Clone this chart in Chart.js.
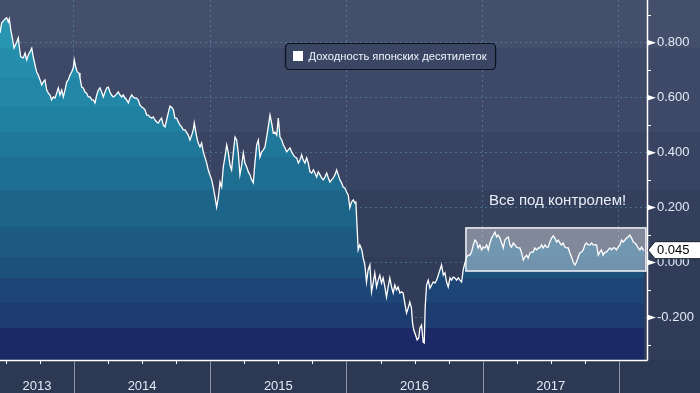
<!DOCTYPE html>
<html>
<head>
<meta charset="utf-8">
<script src="https://cdn.jsdelivr.net/npm/chart.js@4.4.0/dist/chart.umd.min.js"></script>
<style>
  html, body { margin: 0; padding: 0; background: #2d3852; }
  #wrap { width: 700px; height: 393px; }
</style>
</head>
<body>
<div id="wrap"><canvas id="jgb-chart" width="700" height="393"></canvas></div>
<script>
// Доходность 10-летних JGB, дата в долях года
const dates = [
  2013.457,2013.469,2013.494,2013.506,2013.518,2013.525,2013.536,2013.550,2013.560,2013.580,
  2013.591,2013.599,2013.609,2013.628,2013.641,2013.653,2013.665,2013.677,2013.690,2013.701,
  2013.714,2013.726,2013.738,2013.751,2013.763,2013.775,2013.787,2013.800,2013.812,2013.824,
  2013.836,2013.848,2013.861,2013.873,2013.885,2013.897,2013.910,2013.922,2013.934,2013.947,
  2013.958,2013.971,2013.983,2013.995,2014.002,2014.013,2014.024,2014.037,2014.044,2014.057,
  2014.068,2014.081,2014.093,2014.105,2014.118,2014.130,2014.142,2014.154,2014.167,2014.179,
  2014.191,2014.203,2014.215,2014.228,2014.240,2014.252,2014.264,2014.276,2014.288,2014.301,
  2014.313,2014.325,2014.338,2014.350,2014.362,2014.374,2014.387,2014.399,2014.411,2014.424,
  2014.435,2014.448,2014.460,2014.472,2014.484,2014.497,2014.509,2014.521,2014.534,2014.545,
  2014.558,2014.570,2014.582,2014.595,2014.607,2014.619,2014.631,2014.643,2014.655,2014.668,
  2014.680,2014.692,2014.705,2014.717,2014.729,2014.741,2014.754,2014.766,2014.778,2014.790,
  2014.802,2014.815,2014.839,2014.851,2014.864,2014.876,2014.883,2014.901,2014.912,2014.925,
  2014.937,2014.949,2014.961,2014.974,2014.986,2014.998,2015.011,2015.022,2015.035,2015.047,
  2015.059,2015.072,2015.084,2015.096,2015.108,2015.121,2015.133,2015.145,2015.157,2015.170,
  2015.182,2015.194,2015.206,2015.218,2015.231,2015.243,2015.255,2015.268,2015.280,2015.292,
  2015.304,2015.316,2015.328,2015.341,2015.353,2015.365,2015.378,2015.390,2015.402,2015.414,
  2015.426,2015.439,2015.451,2015.463,2015.475,2015.488,2015.500,2015.512,2015.525,2015.537,
  2015.549,2015.561,2015.573,2015.585,2015.598,2015.610,2015.622,2015.635,2015.647,2015.659,
  2015.671,2015.683,2015.695,2015.708,2015.720,2015.732,2015.745,2015.757,2015.769,2015.781,
  2015.793,2015.806,2015.818,2015.830,2015.842,2015.855,2015.867,2015.879,2015.891,2015.903,
  2015.915,2015.928,2015.940,2015.952,2015.964,2015.976,2015.989,2016.001,2016.013,2016.025,
  2016.037,2016.050,2016.062,2016.069,2016.079,2016.086,2016.098,2016.113,2016.123,2016.135,
  2016.147,2016.159,2016.172,2016.184,2016.196,2016.208,2016.221,2016.233,2016.245,2016.257,
  2016.269,2016.282,2016.294,2016.306,2016.318,2016.331,2016.343,2016.355,2016.367,2016.379,
  2016.392,2016.404,2016.416,2016.428,2016.441,2016.453,2016.465,2016.477,2016.485,2016.494,
  2016.507,2016.519,2016.531,2016.539,2016.551,2016.563,2016.571,2016.578,2016.588,2016.600,
  2016.613,2016.625,2016.637,2016.650,2016.662,2016.674,2016.686,2016.698,2016.711,2016.723,
  2016.735,2016.747,2016.760,2016.772,2016.784,2016.796,2016.808,2016.821,2016.833,2016.845,
  2016.857,2016.869,2016.882,2016.894,2016.906,2016.918,2016.931,2016.943,2016.955,2016.967,
  2016.979,2016.992,2017.004,2017.016,2017.029,2017.041,2017.053,2017.065,2017.078,2017.090,
  2017.102,2017.114,2017.127,2017.139,2017.151,2017.163,2017.176,2017.188,2017.200,2017.212,
  2017.224,2017.237,2017.249,2017.261,2017.273,2017.286,2017.298,2017.310,2017.322,2017.334,
  2017.347,2017.359,2017.371,2017.383,2017.396,2017.408,2017.420,2017.432,2017.444,2017.457,
  2017.469,2017.481,2017.493,2017.506,2017.518,2017.530,2017.542,2017.554,2017.567,2017.579,
  2017.591,2017.603,2017.616,2017.628,2017.640,2017.652,2017.664,2017.677,2017.689,2017.701,
  2017.713,2017.726,2017.738,2017.750,2017.762,2017.774,2017.787,2017.799,2017.811,2017.823,
  2017.836,2017.848,2017.860,2017.872,2017.884,2017.897,2017.909,2017.921,2017.933,2017.946,
  2017.958,2017.970,2017.982,2017.994,2018.007,2018.019,2018.031,2018.044,2018.056,2018.068,
  2018.080,2018.093,2018.105,2018.117,2018.129,2018.141,2018.154,2018.166,2018.178,2018.185
];

const yields = [
  0.836,0.872,0.887,0.891,0.876,0.887,0.847,0.811,0.781,0.803,
  0.818,0.785,0.749,0.745,0.763,0.738,0.756,0.767,0.781,0.749,
  0.720,0.694,0.683,0.665,0.647,0.658,0.665,0.628,0.617,0.610,
  0.592,0.603,0.599,0.617,0.636,0.610,0.628,0.603,0.628,0.658,
  0.665,0.683,0.694,0.709,0.738,0.712,0.694,0.690,0.672,0.639,
  0.636,0.621,0.617,0.603,0.603,0.592,0.592,0.581,0.610,0.628,
  0.636,0.621,0.603,0.621,0.636,0.639,0.621,0.610,0.603,0.607,
  0.614,0.621,0.610,0.603,0.610,0.599,0.592,0.581,0.599,0.610,
  0.603,0.599,0.599,0.592,0.574,0.566,0.563,0.556,0.537,0.537,
  0.530,0.526,0.530,0.519,0.512,0.508,0.519,0.526,0.501,0.494,
  0.519,0.545,0.570,0.566,0.556,0.526,0.526,0.512,0.501,0.494,
  0.483,0.483,0.464,0.446,0.464,0.483,0.508,0.457,0.435,0.421,
  0.435,0.403,0.384,0.362,0.337,0.319,0.301,0.275,0.239,0.202,
  0.235,0.293,0.275,0.348,0.384,0.428,0.399,0.355,0.337,0.403,
  0.457,0.446,0.399,0.319,0.355,0.399,0.362,0.348,0.330,0.319,
  0.301,0.290,0.362,0.428,0.446,0.384,0.403,0.410,0.421,0.457,
  0.494,0.537,0.508,0.472,0.475,0.464,0.526,0.457,0.446,0.428,
  0.417,0.403,0.410,0.417,0.403,0.392,0.384,0.381,0.362,0.373,
  0.392,0.373,0.362,0.381,0.362,0.330,0.326,0.337,0.326,0.311,
  0.330,0.319,0.308,0.301,0.311,0.326,0.308,0.293,0.301,0.308,
  0.319,0.337,0.319,0.301,0.290,0.275,0.271,0.257,0.246,0.199,
  0.220,0.228,0.217,0.220,0.118,0.046,0.064,0.046,0.016,-0.009,
  -0.071,-0.027,-0.009,-0.107,-0.075,-0.038,-0.089,-0.064,-0.046,-0.075,
  -0.056,-0.089,-0.126,-0.089,-0.056,-0.089,-0.111,-0.082,-0.100,-0.089,
  -0.111,-0.107,-0.111,-0.148,-0.184,-0.166,-0.144,-0.166,-0.220,-0.246,
  -0.264,-0.282,-0.275,-0.239,-0.228,-0.290,-0.293,-0.162,-0.082,-0.064,
  -0.093,-0.082,-0.071,-0.075,-0.064,-0.046,-0.027,-0.009,-0.046,-0.038,
  -0.071,-0.089,-0.056,-0.064,-0.053,-0.056,-0.064,-0.056,-0.064,-0.071,
  -0.027,-0.002,0.020,0.027,0.027,0.038,0.064,0.082,0.075,0.053,
  0.064,0.046,0.056,0.053,0.064,0.046,0.071,0.089,0.100,0.111,
  0.093,0.100,0.089,0.071,0.053,0.082,0.089,0.093,0.064,0.056,
  0.071,0.064,0.056,0.053,0.053,0.035,0.009,0.020,0.027,0.016,
  0.035,0.038,0.038,0.053,0.046,0.053,0.053,0.064,0.053,0.064,
  0.056,0.056,0.075,0.089,0.097,0.089,0.075,0.082,0.071,0.064,
  0.071,0.056,0.053,0.053,0.035,0.020,0.002,-0.009,0.002,0.020,
  0.035,0.038,0.046,0.064,0.071,0.064,0.064,0.071,0.064,0.064,
  0.064,0.027,0.038,0.046,0.027,0.038,0.038,0.046,0.053,0.046,
  0.053,0.053,0.046,0.056,0.064,0.082,0.075,0.082,0.089,0.093,
  0.100,0.089,0.075,0.071,0.064,0.053,0.046,0.056,0.046,0.045
];

const yearLabels = ["2013", "2014", "2015", "2016", "2017"];
const yearStarts = [2014, 2015, 2016, 2017, 2018];
const yTicks = [-0.2, 0, 0.2, 0.4, 0.6, 0.8];
const seriesName = "Доходность японских десятилеток";
const noteText = "Все под контролем!";

const X_MIN = 2013.457, X_MAX = 2018.206;
const Y_MIN = -0.355, Y_MAX = 0.956;

// рамка "все под контролем" (в единицах осей)
const calmBox = { from: 2016.877, to: 2018.198, low: -0.031, high: 0.126 };

const FONT = "'Liberation Sans', Arial, sans-serif";
const TEXT = "#e2eaf6";
const GRID = "rgba(88, 150, 180, 0.55)";

// полосы фона (по пикселям сверху вниз)
const bgBands = [
  [0, 48, "#434f6b"], [48, 132, "#3d4966"], [132, 190, "#384461"],
  [190, 257, "#343f5c"], [257, 360, "#313c58"], [360, 393, "#2d3852"],
];
// полосы заливки под линией
const fillEdges = [0, 48, 78, 107, 132, 157, 190, 227, 257, 278, 303, 328, 360];
const fillColors = ["#2895b1", "#258ead", "#2287a6", "#20809f", "#1f7799", "#1e6e91",
                    "#1d6489", "#1c5a82", "#1c517b", "#1d4676", "#1c3c6f", "#1b2966"];

function areaFill(context) {
  const { ctx, chartArea } = context.chart;
  if (!chartArea) return null;
  const h = chartArea.bottom - chartArea.top;
  const g = ctx.createLinearGradient(0, chartArea.top, 0, chartArea.bottom);
  for (let i = 0; i < fillColors.length; i++) {
    g.addColorStop(fillEdges[i] / h, fillColors[i]);
    g.addColorStop(Math.min(1, fillEdges[i + 1] / h - 0.0001), fillColors[i]);
  }
  return g;
}

const bandsPlugin = {
  id: "bands",
  beforeDraw(chart) {
    const { ctx, width } = chart;
    ctx.save();
    bgBands.forEach(([a, b, c]) => {
      ctx.fillStyle = c;
      ctx.fillRect(0, a, width, b - a);
    });
    ctx.restore();
  },
};

const decorPlugin = {
  id: "decor",
  afterDraw(chart) {
    const { ctx, chartArea: area, width, height } = chart;
    const x = chart.scales.x, y = chart.scales.y;
    ctx.save();

    // рамка с полупрозрачной заливкой
    const bx0 = x.getPixelForValue(calmBox.from), bx1 = x.getPixelForValue(calmBox.to);
    const by0 = y.getPixelForValue(calmBox.high), by1 = y.getPixelForValue(calmBox.low);
    ctx.fillStyle = "rgba(255,255,255,0.38)";
    ctx.fillRect(bx0, by0, bx1 - bx0, by1 - by0);
    ctx.strokeStyle = "#f2f4f8";
    ctx.lineWidth = 1.5;
    ctx.strokeRect(bx0, by0, bx1 - bx0, by1 - by0);

    // подпись
    ctx.fillStyle = "#e8eef8";
    ctx.font = "15px " + FONT;
    ctx.textAlign = "left";
    ctx.textBaseline = "middle";
    ctx.fillText(noteText, x.getPixelForValue(2017.046), y.getPixelForValue(0.224));

    // оси
    ctx.strokeStyle = "#ffffff";
    ctx.lineWidth = 1.5;
    ctx.beginPath();
    ctx.moveTo(area.left, area.bottom + 0.5);
    ctx.lineTo(area.right + 0.5, area.bottom + 0.5);
    ctx.moveTo(area.right + 0.5, area.top);
    ctx.lineTo(area.right + 0.5, area.bottom + 0.5);
    ctx.stroke();

    // мелкие деления по кварталам
    ctx.lineWidth = 1;
    ctx.beginPath();
    for (let q = Math.ceil(X_MIN * 4) / 4; q <= X_MAX; q += 0.25) {
      if (Number.isInteger(q)) continue;
      const px = Math.round(x.getPixelForValue(q)) + 0.5;
      ctx.moveTo(px, area.bottom);
      ctx.lineTo(px, area.bottom + 4);
    }
    ctx.stroke();

    // разделители лет под осью
    ctx.strokeStyle = "#8d94a5";
    ctx.beginPath();
    yearStarts.forEach((v) => {
      const px = Math.round(x.getPixelForValue(v)) + 0.5;
      ctx.moveTo(px, area.bottom + 1);
      ctx.lineTo(px, height);
    });
    ctx.stroke();

    // подписи лет по центру видимых отрезков
    ctx.fillStyle = TEXT;
    ctx.font = "13px " + FONT;
    ctx.textAlign = "center";
    yearLabels.forEach((lab) => {
      const yr = Number(lab);
      const a = Math.max(yr, X_MIN), b = Math.min(yr + 1, X_MAX);
      const cx = (x.getPixelForValue(a) + x.getPixelForValue(b)) / 2;
      ctx.fillText(lab, cx, area.bottom + 26);
    });

    // деления правой оси
    ctx.strokeStyle = "#ffffff";
    ctx.beginPath();
    for (let v = -0.3; v <= 0.91; v += 0.2) {
      const py = Math.round(y.getPixelForValue(v)) + 0.5;
      ctx.moveTo(area.right, py);
      ctx.lineTo(area.right + 4, py);
    }
    ctx.stroke();
    ctx.fillStyle = "#ffffff";
    yTicks.forEach((v) => {
      const py = y.getPixelForValue(v);
      ctx.beginPath();
      ctx.moveTo(area.right, py - 3);
      ctx.lineTo(area.right + 9, py);
      ctx.lineTo(area.right, py + 3);
      ctx.closePath();
      ctx.fill();
    });

    // метка последнего значения
    const last = yields[yields.length - 1];
    const ly = y.getPixelForValue(last);
    const lx = area.right + 1;
    ctx.beginPath();
    ctx.moveTo(lx, ly);
    ctx.lineTo(lx + 7, ly - 8.5);
    ctx.lineTo(width + 2, ly - 8.5);
    ctx.lineTo(width + 2, ly + 8.5);
    ctx.lineTo(lx + 7, ly + 8.5);
    ctx.closePath();
    ctx.fillStyle = "#ffffff";
    ctx.fill();
    ctx.strokeStyle = "#1a1f2b";
    ctx.lineWidth = 1;
    ctx.stroke();
    ctx.fillStyle = "#000000";
    ctx.font = "13px " + FONT;
    ctx.textAlign = "left";
    ctx.fillText(last.toFixed(3), lx + 9, ly + 0.5);

    // легенда
    ctx.font = "11.2px " + FONT;
    const tw = ctx.measureText(seriesName).width;
    const lgX = 285.5, lgY = 43.5, lgW = 8 + 10 + 5 + tw + 9, lgH = 26;
    ctx.beginPath();
    ctx.roundRect(lgX, lgY, lgW, lgH, 4);
    ctx.fillStyle = "#3a4664";
    ctx.fill();
    ctx.strokeStyle = "#0d111c";
    ctx.lineWidth = 1.2;
    ctx.stroke();
    ctx.fillStyle = "#ffffff";
    ctx.fillRect(lgX + 7.5, lgY + 7.5, 10, 10);
    ctx.fillStyle = "#f0f4fa";
    ctx.textAlign = "left";
    ctx.fillText(seriesName, lgX + 23, lgY + lgH / 2 + 0.5);

    ctx.restore();
  },
};

const ctx = document.getElementById("jgb-chart");
const points = dates.map((d, i) => ({ x: d, y: yields[i] }));

new Chart(ctx, {
  type: "line",
  data: {
    datasets: [
      {
        label: seriesName,
        data: points,
        borderColor: "#ffffff",
        borderWidth: 1.3,
        pointRadius: 0,
        tension: 0,
        fill: "start",
        backgroundColor: areaFill,
      },
    ],
  },
  options: {
    responsive: false,
    animation: false,
    layout: { padding: 0 },
    plugins: {
      legend: { display: false },
      tooltip: { enabled: false },
    },
    scales: {
      x: {
        type: "linear",
        min: X_MIN,
        max: X_MAX,
        z: 1,
        afterBuildTicks: (s) => { s.ticks = yearStarts.map((v) => ({ value: v })); },
        afterFit: (s) => {
          s.height = 33;
          s.paddingLeft = 0;
          s.paddingRight = 0;
        },
        ticks: { display: false },
        grid: { color: GRID, lineWidth: 1, drawTicks: false },
        border: { display: false, dash: [2, 3] },
      },
      y: {
        position: "right",
        min: Y_MIN,
        max: Y_MAX,
        z: 1,
        afterBuildTicks: (s) => { s.ticks = yTicks.map((v) => ({ value: v })); },
        afterFit: (s) => {
          s.width = 53;
          s.paddingTop = 0;
          s.paddingBottom = 0;
        },
        ticks: {
          padding: 10,
          color: TEXT,
          font: { family: FONT, size: 13 },
          callback: (v) => Number(v).toFixed(3),
        },
        grid: { color: GRID, lineWidth: 1, drawTicks: false },
        border: { display: false, dash: [2, 3] },
      },
    },
  },
  plugins: [bandsPlugin, decorPlugin],
});
</script>
</body>
</html>
